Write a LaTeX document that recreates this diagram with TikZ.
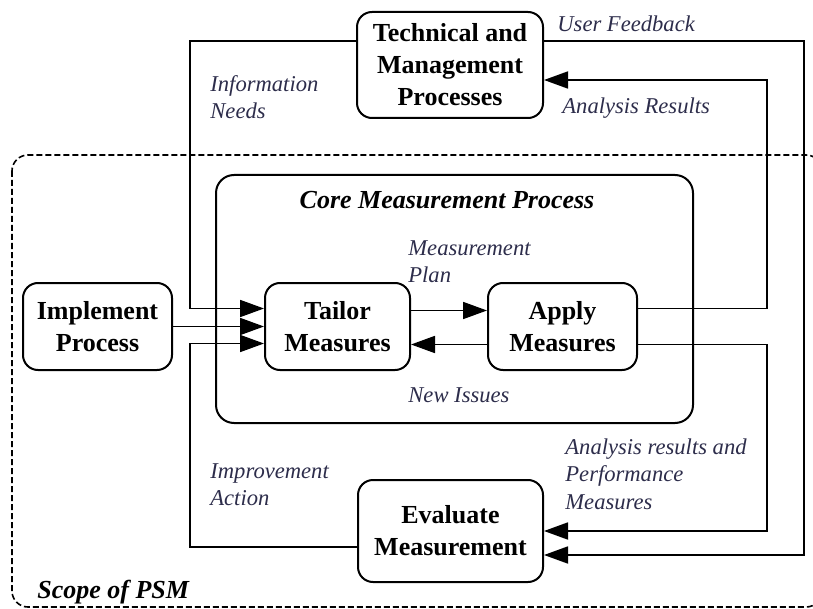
\documentclass[tikz,border=0pt]{standalone}
\usepackage{fontspec}
\setmainfont{Liberation Serif}
\usetikzlibrary{arrows.meta}
\definecolor{annotcol}{RGB}{45,45,75}

\begin{document}
\begin{tikzpicture}[x=0.5pt,y=-0.5pt,
    box/.style={draw, line width=1pt, rounded corners=7.5pt, align=center,
        font=\fontsize{13}{16}\selectfont\bfseries, inner sep=0pt},
    flow/.style={line width=0.9pt, -{Triangle[length=12pt,width=8.5pt]}},
    annot/.style={anchor=north west, align=left, inner sep=0pt, text=annotcol,
        font=\fontsize{11.3}{13.8}\selectfont\itshape},
    heading/.style={inner sep=0pt, font=\fontsize{13}{16}\selectfont\bfseries\itshape}]

    \useasboundingbox (0,0) rectangle (813,609);

    % Frames
    \draw[dashed, dash pattern=on 3pt off 1.5pt, line width=0.8pt, rounded corners=8pt] (12,155) rectangle (822,607);
    \draw[line width=1pt, rounded corners=9pt] (216,175) rectangle (693,423);

    % Boxes
    \node[box, minimum width=93pt, minimum height=53pt] (tech) at (450,65) {Technical and\\Management\\Processes};
    \node[box, minimum width=74.5pt, minimum height=43.5pt] (impl) at (97.5,326.5) {Implement\\Process};
    \node[box, minimum width=72.5pt, minimum height=43.5pt] (tailor) at (337.5,326.5) {Tailor\\Measures};
    \node[box, minimum width=74.5pt, minimum height=43.5pt] (apply) at (562.5,326.5) {Apply\\Measures};
    \node[box, minimum width=92.5pt, minimum height=51pt] (eval) at (450.5,531) {Evaluate\\Measurement};

    % Rails for the long connectors
    \coordinate (railL) at (190,200);
    \coordinate (railLlow) at (190,450);
    \coordinate (railA) at (767,200);
    \coordinate (railAlow) at (767,450);
    \coordinate (railR) at (804,300);

    % Connectors
    \draw[flow] ([yshift=12pt]tech.west) -| (railL) |- ([yshift=9pt]tailor.west);
    \draw[flow] (impl.east) -- (tailor.west);
    \draw[flow] ([yshift=-8pt]eval.west) -| (railLlow) |- ([yshift=-8.5pt]tailor.west);
    \draw[flow] ([yshift=8pt]tailor.east) -- ([yshift=8pt]apply.west);
    \draw[flow] ([yshift=-9pt]apply.west) -- ([yshift=-9pt]tailor.east);
    \draw[flow] ([yshift=9pt]apply.east) -| (railA) |- ([yshift=-7.5pt]tech.east);
    \draw[flow] ([yshift=-9pt]apply.east) -| (railAlow) |- (eval.east);
    \draw[flow] ([yshift=12pt]tech.east) -| (railR) |- ([yshift=-12pt]eval.east);

    % Labels
    \node[annot] (fbtext) at (557,15) {User Feedback};
    \node[annot] (restext) at (562,97) {Analysis Results};
    \node[annot] (needtext) at (210,75) {Information\\Needs};
    \node[annot] (plantext) at (408,240) {Measurement\\Plan};
    \node[annot] (issuetext) at (408,387) {New Issues};
    \node[annot] (perftext) at (565,438) {Analysis results and\\Performance\\Measures};
    \node[annot] (acttext) at (210,463) {Improvement\\Action};
    \node[heading, anchor=north] (coretext) at (447,191) {Core Measurement Process};
    \node[heading, anchor=north west] (scopetext) at (37,580) {Scope of PSM};

\end{tikzpicture}
\end{document}
